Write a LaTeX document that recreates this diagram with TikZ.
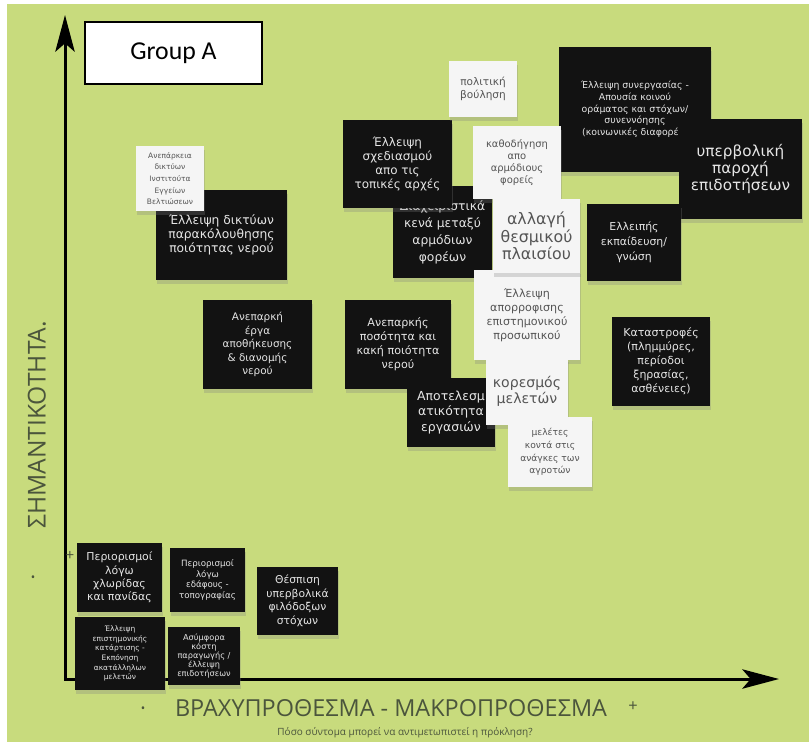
\documentclass[tikz,border=0pt]{standalone}
\usepackage{fontspec}
\setmainfont{DejaVu Sans}
\newfontfamily\axisfont{Open Sans}
\newfontfamily\groupfont{Carlito}
\usetikzlibrary{arrows.meta,shadows,positioning}

\definecolor{board}{RGB}{200,219,125}
\definecolor{axistext}{RGB}{75,85,60}
\definecolor{inkgray}{RGB}{85,85,85}
\newcommand{\fs}[2]{\fontsize{#1}{#2}\selectfont}

\begin{document}
\begin{tikzpicture}[x=0.3mm, y=-0.3mm,
    notesize/.style 2 args={minimum width=#1*0.3mm, minimum height=#2*0.3mm},
    note/.style={inner sep=0pt, align=center,
      drop shadow={shadow xshift=0.3mm, shadow yshift=-1.2mm, opacity=0.28}},
    blacknote/.style={note, fill=black!93, text=white!90!black},
    whitenote/.style={note, fill=white!96!black, text=inkgray},
    axis/.style={line width=0.9mm, line cap=rect,
      -{Stealth[length=11mm, width=5.8mm, inset=2.5mm]}}]
  \fill[white] (0,0) rectangle (809,742);
  \fill[board] (7,4) rectangle (809,742);

  % axes
  \coordinate (origin) at (65,679);
  \coordinate (ytip) at (65,15);
  \coordinate (xtip) at (779,679);
  \draw[axis] (origin) -- (ytip);
  \draw[axis] (origin) -- (xtip);

  \node[draw, line width=0.6mm, fill=white, inner sep=0pt, notesize={177}{62},
    font=\groupfont\fs{22}{24}] (group) at (173.5,53) {Group A};

  % axis texts
  \node[rotate=90, text=axistext, font=\axisfont\fs{21}{23}] (ylabel) at (37,425) {ΣΗΜΑΝΤΙΚΟΤΗΤΑ.};
  \node[text=axistext, font=\axisfont\fs{13}{14}] (yplus) at (70,556) {+};
  \node[text=axistext, font=\axisfont\fs{10}{12}] (yminus) at (33,579) {•};
  \node[text=axistext, font=\axisfont\fs{20}{22}] (xlabel) at (391,708) {ΒΡΑΧΥΠΡΟΘΕΣΜΑ - ΜΑΚΡΟΠΡΟΘΕΣΜΑ};
  \node[text=axistext, font=\axisfont\fs{14}{16}] (xplus) at (633,707) {+};
  \node[text=axistext, font=\axisfont\fs{10}{12}] (xminus) at (143,710) {•};
  \node[text=axistext, font=\axisfont\fs{8.5}{10}] (question) at (405,733) {Πόσο σύντομα μπορεί να αντιμετωπιστεί η πρόκληση?};

  % upper left
  \node[blacknote, notesize={131}{90}, font=\fs{10.5}{12}] (monitor) at (221.5,235)
    {Έλλειψη δικτύων\\παρακόλουθησης\\ποιότητας νερού};
  \node[whitenote, notesize={68}{65}, font=\fs{6.4}{10}] (institutes) at (170,178.5)
    {Ανεπάρκεια\\δικτύων\\Ινστιτούτα\\Εγγείων\\Βελτιώσεων};
  \node[blacknote, notesize={109}{89}, font=\fs{8.9}{11.6}] (storage) at (257.5,344.5)
    {Ανεπαρκή\\έργα\\αποθήκευσης\\\& διανομής\\νερού};
  \node[blacknote, notesize={106}{89}, font=\fs{9.5}{12}] (quantity) at (398,344.5)
    {Ανεπαρκής\\ποσότητα και\\κακή ποιότητα\\νερού};
  \node[blacknote, notesize={88}{69}, font=\fs{10.6}{13.4}] (efficiency) at (451,412.5)
    {Αποτελεσμ\\ατικότητα\\εργασιών};
  \node[blacknote, notesize={99}{92}, font=\fs{10.5}{14.5}] (gaps) at (442.5,232)
    {Διαχειριστικά\\κενά μεταξύ\\αρμόδιων\\φορέων};
  \node[blacknote, notesize={109}{88}, font=\fs{10.2}{12.2}] (planning) at (397.5,164)
    {Έλλειψη\\σχεδιασμού\\απο τις\\τοπικές αρχές};

  % upper right
  \node[whitenote, notesize={68}{56}, font=\fs{9}{11}] (will) at (483,89)
    {πολιτική\\βούληση};
  \node[blacknote, notesize={152}{125}, font=\fs{8}{10}] (cooperation) at (635,109.5)
    {Έλλειψη συνεργασίας -\\Απουσία κοινού\\οράματος και στόχων/\\συνεννόησης\\(κοινωνικές διαφορές)};
  \node[blacknote, notesize={123}{100}, font=\fs{13}{14.2}] (subsidies) at (740.5,169)
    {υπερβολική\\παροχή\\επιδοτήσεων};
  \node[blacknote, notesize={94}{77}, font=\fs{9.3}{12.7}] (education) at (634,242.5)
    {Ελλειπής\\εκπαίδευση/\\γνώση};
  \node[whitenote, notesize={88}{73}, font=\fs{8.5}{10}] (guidance) at (517,162.5)
    {καθοδήγηση\\απο\\αρμόδιους\\φορείς};
  \node[whitenote, notesize={106}{90}, font=\fs{9.5}{11.9}] (staff) at (527,315)
    {Έλλειψη\\απορροφισης\\επιστημονικού\\προσωπικού};
  \node[whitenote, notesize={87}{74}, font=\fs{13.5}{15}] (framework) at (536.5,236)
    {αλλαγή\\θεσμικού\\πλαισίου};
  \node[whitenote, notesize={82}{67}, font=\fs{12}{14.2}] (saturation) at (527,391.5)
    {κορεσμός\\μελετών};
  \node[whitenote, notesize={84}{70}, font=\fs{7.8}{10.8}] (farmers) at (550,452)
    {μελέτες\\κοντά στις\\ανάγκες των\\αγροτών};
  \node[blacknote, notesize={98}{89}, font=\fs{9.4}{12}] (disasters) at (661,361.5)
    {Καταστροφές\\(πλημμύρες,\\περίοδοι\\ξηρασίας,\\ασθένειες)};

  % lower left
  \node[blacknote, notesize={85}{69}, font=\fs{9.3}{11.3}] (flora) at (119.5,577.5)
    {Περιορισμοί\\λόγω\\χλωρίδας\\και πανίδας};
  \node[blacknote, notesize={75}{64}, font=\fs{7.4}{9}] (terrain) at (207.5,580)
    {Περιορισμοί\\λόγω\\εδάφους -\\τοπογραφίας};
  \node[blacknote, notesize={81}{68}, font=\fs{9.2}{11.5}] (targets) at (297.5,601)
    {Θέσπιση\\υπερβολικά\\φιλόδοξων\\στόχων};
  \node[blacknote, notesize={90}{73}, font=\fs{6.4}{8.2}] (training) at (120,653.5)
    {Έλλειψη\\επιστημονικής\\κατάρτισης -\\Εκπόνηση\\ακατάλληλων\\μελετών};
  \node[blacknote, notesize={72}{58}, font=\fs{7}{7.8}] (costs) at (204,656)
    {Ασύμφορα\\κόστη\\παραγωγής /\\έλλειψη\\επιδοτήσεων};
\end{tikzpicture}
\end{document}
